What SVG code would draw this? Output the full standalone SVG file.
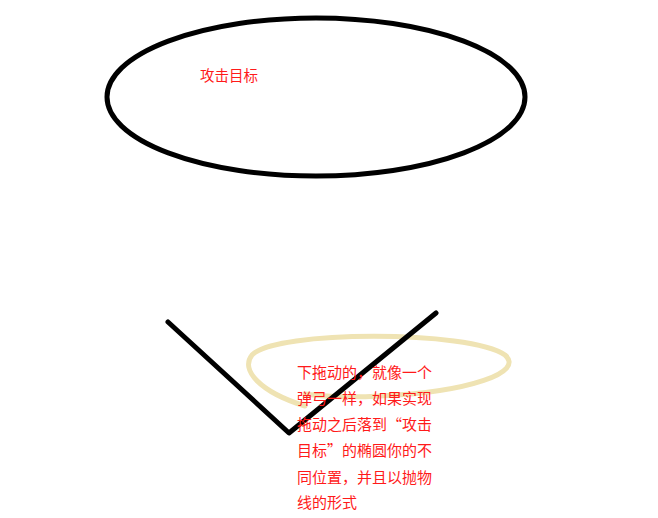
<svg xmlns="http://www.w3.org/2000/svg" width="658" height="518" viewBox="0 0 658 518">
<style>
.t{font-family:"Noto Sans CJK SC","Liberation Sans",sans-serif;font-size:14.5px;fill:#ff1a1a}
.n{font-size:15px;font-feature-settings:"fwid" 1}
.k{fill:none;stroke:#000;stroke-width:5;stroke-linecap:round;stroke-linejoin:round}
</style>
<rect width="658" height="518" fill="#fff"/>
<g id="target">
<ellipse cx="316" cy="97" rx="209" ry="79" class="k"/>
<text x="200" y="81" class="t">攻击目标</text>
</g>
<g id="landing">
<path d="M305 406 C 260 392 240 370 252 355 C 275 330 470 330 505 355 C 525 372 470 392 380 396 C 345 398 320 396 305 394" fill="none" stroke="#efe3b3" stroke-width="5" stroke-linecap="round"/>
</g>
<g id="connectors">
<polyline points="168,322 289,433 436,313" class="k"/>
</g>
<g id="note">
<text class="t n" x="297">
<tspan x="297" y="378">下拖动的，就像一个</tspan>
<tspan x="297" y="404">弹弓一样，如果实现</tspan>
<tspan x="297" y="430">拖动之后落到“攻击</tspan>
<tspan x="297" y="456">目标”的椭圆你的不</tspan>
<tspan x="297" y="483">同位置，并且以抛物</tspan>
<tspan x="297" y="508">线的形式</tspan>
</text>
</g>
</svg>
